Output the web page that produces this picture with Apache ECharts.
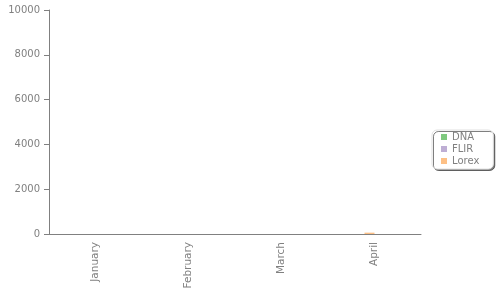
<!DOCTYPE html>
<html>
<head>
<meta charset="utf-8">
<script src="https://cdn.jsdelivr.net/npm/echarts@6/dist/echarts.min.js"></script>
<style>html,body{margin:0;padding:0;background:#fff}#c{width:500px;height:300px}</style>
</head>
<body>
<div id="c"></div>
<script>
var categories = ['January', 'February', 'March', 'April'];
var seriesNames = ['DNA', 'FLIR', 'Lorex'];
var dnaValues = [0, 0, 0, 0];
var flirValues = [0, 0, 0, 0];
var lorexValues = [0, 0, 0, 60];
var yTicks = [0, 2000, 4000, 6000, 8000, 10000];
var colors = {DNA: '#7fc97f', FLIR: '#beaed4', Lorex: '#fdc086'};

var chart = echarts.init(document.getElementById('c'), null, {renderer: 'canvas'});
var axisColor = '#808080';
var font = 'DejaVu Sans, Verdana, sans-serif';
chart.setOption({
  animation: false,
  grid: {left: 49, right: 79, top: 10, bottom: 66, containLabel: false},
  legend: {
    data: seriesNames,
    orient: 'vertical',
    left: 432, top: 130,
    itemWidth: 6, itemHeight: 6, itemGap: 2,
    icon: 'rect',
    padding: [2, 14, 3, 9],
    backgroundColor: '#fff',
    borderColor: '#e0e0e0', borderWidth: 1, borderRadius: 5,
    shadowColor: 'rgba(0,0,0,0.5)', shadowBlur: 0, shadowOffsetX: 1.5, shadowOffsetY: 1.5,
    textStyle: {color: '#808080', fontSize: 10, fontFamily: font, padding: [0,0,0,0]}
  },
  xAxis: {
    type: 'category',
    data: categories,
    axisLine: {lineStyle: {color: axisColor}},
    axisTick: {alignWithLabel: true, length: 5, lineStyle: {color: axisColor}},
    axisLabel: {rotate: 90, color: axisColor, fontSize: 10.5, fontFamily: font, margin: 8}
  },
  yAxis: {
    type: 'value',
    min: yTicks[0], max: yTicks[yTicks.length - 1], interval: yTicks[1] - yTicks[0],
    axisLine: {show: true, lineStyle: {color: axisColor}},
    axisTick: {show: true, length: 5, lineStyle: {color: axisColor}},
    splitLine: {show: false},
    axisLabel: {color: axisColor, fontSize: 10, fontFamily: font, margin: 9,
      formatter: function (v) { return String(v); }}
  },
  series: [
    {name: 'Lorex', type: 'bar', data: lorexValues, barWidth: 10, barGap: '0%', z: 3, itemStyle: {color: colors.Lorex}},
    {name: 'FLIR', type: 'bar', data: flirValues, barWidth: 10, stack: 'g2', itemStyle: {color: colors.FLIR}},
    {name: 'DNA', type: 'bar', data: dnaValues, barWidth: 10, stack: 'g2', itemStyle: {color: colors.DNA}}
  ]
});
</script>
</body>
</html>
